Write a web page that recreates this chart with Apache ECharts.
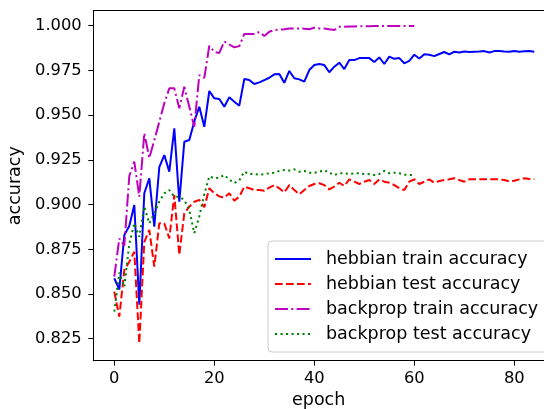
<!DOCTYPE html>
<html>
<head>
<meta charset="utf-8">
<script src="https://cdn.jsdelivr.net/npm/echarts@6/dist/echarts.min.js"></script>
<style>
html,body{margin:0;padding:0;background:#fff;}
#chart{width:544px;height:409px;}
</style>
</head>
<body>
<div id="chart"></div>
<script>
const xTicks = [0, 20, 40, 60, 80];
const yTicks = [0.825, 0.850, 0.875, 0.900, 0.925, 0.950, 0.975, 1.000];
const seriesNames = ["hebbian train accuracy", "hebbian test accuracy", "backprop train accuracy", "backprop test accuracy"];

const hebbianTrain = [
  0.8588, 0.8525, 0.883, 0.888, 0.8998, 0.844, 0.9063, 0.9147, 0.8877, 0.921,
  0.9277, 0.9184, 0.9426, 0.9016, 0.9351, 0.9361, 0.9465, 0.9547, 0.9435, 0.9635,
  0.9594, 0.959, 0.9547, 0.960, 0.9575, 0.9553, 0.9702, 0.9696, 0.9674, 0.9683,
  0.9696, 0.9709, 0.9728, 0.973, 0.9681, 0.9747, 0.9706, 0.970, 0.9687, 0.9752,
  0.978, 0.9786, 0.978, 0.974, 0.9771, 0.9793, 0.9758, 0.9808, 0.9808, 0.9819,
  0.9819, 0.9819, 0.9797, 0.9823, 0.9786, 0.9827, 0.9815, 0.9819, 0.979, 0.9804,
  0.9838, 0.9817, 0.984, 0.9838, 0.983, 0.9842, 0.9853, 0.984, 0.9855, 0.985,
  0.9856, 0.9853, 0.9855, 0.9856, 0.9858, 0.985, 0.9858, 0.9858, 0.9856, 0.9855,
  0.9858, 0.9855, 0.9857, 0.9859, 0.9855
];
const hebbianTest = [
  0.8513, 0.8373, 0.8634, 0.868, 0.8736, 0.8224, 0.8792, 0.8858, 0.8653, 0.8895,
  0.8895, 0.8811, 0.9053, 0.8718, 0.8951, 0.8988, 0.9016, 0.9026, 0.8985, 0.9091,
  0.9063, 0.9046, 0.9038, 0.9063, 0.9022, 0.9044, 0.910, 0.9091, 0.9081, 0.9081,
  0.9077, 0.9095, 0.9109, 0.9091, 0.9068, 0.9109, 0.9081, 0.9057, 0.9081, 0.9104,
  0.9115, 0.9119, 0.9109, 0.9085, 0.910, 0.9122, 0.9104, 0.9141, 0.9128, 0.9115,
  0.9128, 0.9137, 0.9115, 0.9141, 0.9128, 0.9122, 0.9109, 0.9091, 0.9081, 0.9128,
  0.9141, 0.9115, 0.9128, 0.9141, 0.9122, 0.9132, 0.9137, 0.9141, 0.9147, 0.9137,
  0.9128, 0.9141, 0.9141, 0.9141, 0.9141, 0.9141, 0.9141, 0.9141, 0.9137, 0.913,
  0.9133, 0.9141, 0.9147, 0.9143, 0.9143
];
const backpropTrain = [
  0.8597, 0.881, 0.877, 0.916, 0.924, 0.9044, 0.940, 0.926, 0.936, 0.9463,
  0.9566, 0.965, 0.965, 0.9538, 0.9659, 0.9547, 0.9435, 0.9724, 0.9708, 0.9888,
  0.9853, 0.9848, 0.9912, 0.9895, 0.9879, 0.9886, 0.9954, 0.9954, 0.9954, 0.9965,
  0.9942, 0.9966, 0.9976, 0.9978, 0.998, 0.9985, 0.9985, 0.9985, 0.9983, 0.998,
  0.9989, 0.9985, 0.9985, 0.998, 0.9976, 0.9994, 0.9994, 0.9996, 0.9996, 0.9997,
  0.9997, 0.9997, 0.9998, 0.9998, 0.9998, 0.9998, 0.9998, 0.9999, 0.9999, 0.9999,
  0.9999
];
const backpropTest = [
  0.8401, 0.862, 0.854, 0.878, 0.8895, 0.882, 0.8988, 0.8895, 0.8951, 0.9016,
  0.9063, 0.9081, 0.9044, 0.9044, 0.9026, 0.897, 0.884, 0.8933, 0.9058, 0.9158,
  0.9147, 0.915, 0.9165, 0.914, 0.912, 0.9135, 0.9184, 0.9171, 0.9171, 0.9167,
  0.917, 0.9175, 0.9178, 0.9188, 0.9193, 0.919, 0.9197, 0.9184, 0.9188, 0.9178,
  0.9178, 0.9184, 0.9193, 0.9178, 0.9165, 0.9175, 0.9175, 0.9171, 0.9175, 0.9175,
  0.9171, 0.917, 0.9165, 0.9171, 0.9188, 0.9175, 0.9178, 0.9175, 0.9167, 0.9165,
  0.9165
];

function pairs(arr) { return arr.map(function (v, i) { return [i, v]; }); }

const FONT = "DejaVu Sans";
const chart = echarts.init(document.getElementById('chart'), null, {renderer: 'canvas'});
const axisLineStyle = {color: '#000', width: 1};

const option = {
  animation: false,
  backgroundColor: '#fff',
  grid: {left: 93.3, right: 0, top: 10.7, bottom: 48.3, containLabel: false, outerBoundsMode: 'none'},
  xAxis: [{
    type: 'value', min: -4.2, max: 85.94, position: 'bottom',
    name: 'epoch', nameLocation: 'middle', nameGap: 31,
    nameTextStyle: {fontFamily: FONT, fontSize: 17.5, color: '#000'},
    axisLine: {show: true, onZero: false, lineStyle: axisLineStyle},
    axisTick: {show: true, length: 5, customValues: xTicks, lineStyle: axisLineStyle},
    axisLabel: {show: true, customValues: xTicks, margin: 10, fontFamily: FONT, fontSize: 16.3, color: '#000'},
    splitLine: {show: false}
  }, {
    type: 'value', min: -4.2, max: 85.94, position: 'top',
    axisLine: {show: true, onZero: false, lineStyle: axisLineStyle},
    axisTick: {show: false}, axisLabel: {show: false}, splitLine: {show: false}
  }],
  yAxis: [{
    type: 'value', min: 0.8127, max: 1.0084, position: 'left',
    name: 'accuracy', nameLocation: 'middle', nameGap: 62,
    nameTextStyle: {fontFamily: FONT, fontSize: 17.5, color: '#000'},
    axisLine: {show: true, onZero: false, lineStyle: axisLineStyle},
    axisTick: {show: true, length: 5, customValues: yTicks, lineStyle: axisLineStyle},
    axisLabel: {show: true, customValues: yTicks, margin: 11.6, fontFamily: FONT, fontSize: 16.3, color: '#000',
      formatter: function (v) { return Number(v).toFixed(3); }},
    splitLine: {show: false}
  }],
  legend: {
    orient: 'vertical', left: 268, top: 241,
    data: seriesNames,
    itemWidth: 36, itemHeight: 14, itemGap: 7,
    padding: [9, 10, 9, 6],
    backgroundColor: 'rgba(255,255,255,0.8)',
    borderColor: '#cccccc', borderWidth: 1, borderRadius: 4,
    itemStyle: {opacity: 0, color: 'transparent', borderWidth: 0},
    textStyle: {fontFamily: FONT, fontSize: 17.5, color: '#000', lineHeight: 18, padding: [0, 0, 0, 10]}
  },
  series: [
    {name: seriesNames[0], type: 'line', data: pairs(hebbianTrain), showSymbol: false, symbol: 'none',
     color: '#0000ff', lineStyle: {color: '#0000ff', width: 2, type: 'solid'}},
    {name: seriesNames[1], type: 'line', data: pairs(hebbianTest), showSymbol: false, symbol: 'none',
     color: '#ff0000', lineStyle: {color: '#ff0000', width: 2, type: [7.7, 3.3]}},
    {name: seriesNames[2], type: 'line', data: pairs(backpropTrain), showSymbol: false, symbol: 'none',
     color: '#bf00bf', lineStyle: {color: '#bf00bf', width: 2, type: [13, 3.3, 2, 3.3]}},
    {name: seriesNames[3], type: 'line', data: pairs(backpropTest), showSymbol: false, symbol: 'none',
     color: '#008000', lineStyle: {color: '#008000', width: 2, type: [2.1, 3.4]}}
  ]
};
chart.setOption(option);
</script>
</body>
</html>
